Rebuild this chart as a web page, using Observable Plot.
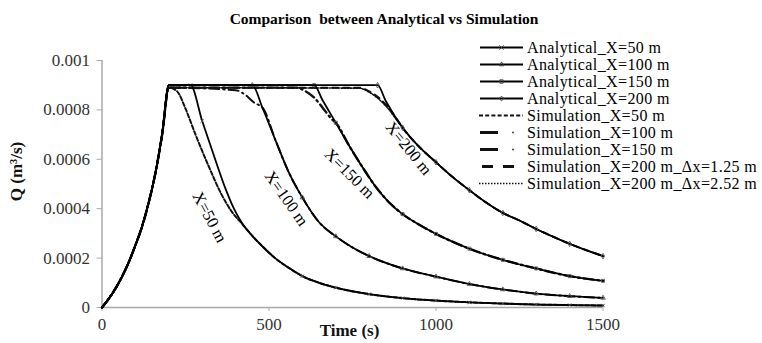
<!DOCTYPE html>
<html><head><meta charset="utf-8">
<script src="https://cdn.jsdelivr.net/npm/d3@7"></script>
<script src="https://cdn.jsdelivr.net/npm/@observablehq/plot@0.6"></script>
<style>
body{margin:0;background:#fff;font-family:'Liberation Serif',serif;}
#wrap{position:relative;width:762px;height:343px;overflow:hidden;}
#title{position:absolute;left:0;top:9px;width:768px;text-align:center;font-weight:bold;font-size:15.5px;line-height:20px;}
#chart{position:absolute;left:0;top:33px;}
#legend{position:absolute;left:478px;top:38.5px;font-size:16px;line-height:17.1px;letter-spacing:0.4px;}
#legend .row{display:flex;align-items:center;height:17.1px;white-space:nowrap;}
#legend svg{flex:none;}
</style></head><body>
<div id="wrap"><div id="title">Comparison&nbsp; between Analytical vs Simulation</div><div id="chart"></div><div id="legend"></div></div>
<script>
// ---- data ----
const xTicks = [0, 500, 1000, 1500];
const yTicks = [0, 0.0002, 0.0004, 0.0006, 0.0008, 0.001];
const yTickLabels = ["0", "0.0002", "0.0004", "0.0006", "0.0008", "0.001"];
const xTitle = "Time (s)";
const yTitle = "Q (m\u00b3/s)";

// common rising limb (s, m3/s)
const riseT = [0, 20, 40, 60, 80, 100, 120, 140, 160, 180, 200];
const riseQ = [0, 0.000035, 0.000076, 0.000125, 0.000183, 0.000252, 0.000328, 0.000426, 0.000545, 0.0007, 0.0009];

// analytical falling limbs (first point = end of plateau)
const a50T = [265, 300, 340, 370, 395, 420, 450, 480, 520, 560, 600, 650, 700, 800, 900, 1000, 1100, 1200, 1300, 1400, 1500];
const a50Q = [0.0009, 0.000755, 0.000595, 0.00048, 0.0004, 0.00034, 0.00029, 0.000248, 0.000198, 0.00016, 0.000127, 0.0001, 0.00008, 0.000054, 0.000038, 0.000028, 0.000021, 0.000016, 0.000012, 0.00001, 0.000008];
const a100T = [450, 480, 520, 560, 600, 650, 700, 750, 800, 900, 1000, 1100, 1200, 1300, 1400, 1500];
const a100Q = [0.0009, 0.00081, 0.000675, 0.000545, 0.000445, 0.000345, 0.000288, 0.000243, 0.000208, 0.000158, 0.000125, 0.000095, 0.000073, 0.000056, 0.000046, 0.000039];
const a150T = [635, 660, 700, 740, 780, 820, 860, 900, 950, 1000, 1100, 1200, 1300, 1400, 1500];
const a150Q = [0.0009, 0.00084, 0.000748, 0.000655, 0.000568, 0.000488, 0.000425, 0.000378, 0.000335, 0.000298, 0.000238, 0.000193, 0.000158, 0.000127, 0.000108];
const a200T = [825, 850, 900, 950, 1000, 1050, 1100, 1150, 1200, 1250, 1300, 1350, 1400, 1450, 1500];
const a200Q = [0.0009, 0.000835, 0.000728, 0.00065, 0.000588, 0.000528, 0.000475, 0.000425, 0.000383, 0.000352, 0.000318, 0.000287, 0.000258, 0.000232, 0.000208];

// simulation: plateau and rounded start of the falling limb (afterwards they follow the analytical curve)
const s50T = [200, 225, 250, 280, 320, 357, 390, 420];
const s50Q = [0.00089, 0.000875, 0.000805, 0.0007, 0.00057, 0.00046, 0.000385, 0.000338];
const s100T = [200, 400, 430, 455, 475];
const s100Q = [0.00089, 0.00088, 0.00086, 0.00083, 0.000815];
const s150T = [200, 580, 610, 635, 660, 690];
const s150Q = [0.00089, 0.00089, 0.000875, 0.00085, 0.00081, 0.00076];
const s200aT = [200, 770, 800, 830, 860, 890];
const s200aQ = [0.00089, 0.00089, 0.000875, 0.000848, 0.000805, 0.000748];
const s200bT = [200, 770, 800, 830, 860, 890];
const s200bQ = [0.00089, 0.000888, 0.000872, 0.000842, 0.0008, 0.000745];

const curveLabels = ["X=50 m", "X=100 m", "X=150 m", "X=200 m"];
const curveLabelT = [322, 552, 741, 918];
const curveLabelQ = [0.000366, 0.000441, 0.000542, 0.000644];
const curveLabelAngle = [62, 55, 45, 51];

// ---- build tables ----
const zip = (T, Q) => T.map((t, i) => ({t, q: Q[i]}));
const rise = zip(riseT, riseQ);
const analytical = [
  {name: "Analytical_X=50 m", fall: zip(a50T, a50Q), symbol: "times"},
  {name: "Analytical_X=100 m", fall: zip(a100T, a100Q), symbol: "triangle"},
  {name: "Analytical_X=150 m", fall: zip(a150T, a150Q), symbol: "square"},
  {name: "Analytical_X=200 m", fall: zip(a200T, a200Q), symbol: "diamond"}
];
analytical.forEach(s => s.rows = rise.concat(s.fall));
const sims = [
  {name: "Simulation_X=50 m", head: zip(s50T, s50Q), tail: analytical[0].fall, dash: "4,2.2", w: 2},
  {name: "Simulation_X=100 m", head: zip(s100T, s100Q), tail: analytical[1].fall, dash: "10,4,1.5,4", w: 2},
  {name: "Simulation_X=150 m", head: zip(s150T, s150Q), tail: analytical[2].fall, dash: "10,4,1.5,4", w: 2.4},
  {name: "Simulation_X=200 m_\u0394x=1.25 m", head: zip(s200aT, s200aQ), tail: analytical[3].fall, dash: "6,5", w: 2},
  {name: "Simulation_X=200 m_\u0394x=2.52 m", head: zip(s200bT, s200bQ), tail: analytical[3].fall, dash: "1.5,1.5", w: 1.6}
];
sims.forEach(s => {
  const last = s.head[s.head.length - 1].t;
  s.rows = rise.filter(d => d.t < 200).concat(s.head, s.tail.filter(d => d.t > last));
});
const labelRows = curveLabels.map((l, i) => ({label: l, t: curveLabelT[i], q: curveLabelQ[i], a: curveLabelAngle[i]}));

const FONT = "'Liberation Serif', serif";
const marks = [
  Plot.ruleY([0], {stroke: "#a8a8a8", strokeWidth: 1.5}),
  Plot.ruleX([0], {stroke: "#a8a8a8", strokeWidth: 1.5}),
  Plot.axisY({ticks: yTicks, tickFormat: (d, i) => yTickLabels[i], tickSize: 5, tickPadding: 7, stroke: "#a8a8a8", fill: "#333", fontSize: 17, label: null}),
  Plot.axisX({ticks: xTicks, tickFormat: d => String(d), tickSize: 4, tickPadding: 6, stroke: "#a8a8a8", fill: "#333", fontSize: 17, label: null}),
  Plot.text([yTitle], {frameAnchor: "left", textAnchor: "middle", rotate: -90, dx: -85, dy: -12.5, fontSize: 17, fontWeight: "bold", fill: "#111"}),
  Plot.text([xTitle], {frameAnchor: "bottom", textAnchor: "middle", dx: -3, dy: 28, fontSize: 17, fontWeight: "bold", fill: "#111"})
];
sims.forEach(s => marks.push(Plot.line(s.rows, {x: "t", y: "q", stroke: "#111", strokeWidth: s.w, strokeDasharray: s.dash, curve: "monotone-x"})));
analytical.forEach(s => {
  marks.push(Plot.line(s.rows, {x: "t", y: "q", stroke: "#000", strokeWidth: 1.8, curve: "monotone-x"}));
  marks.push(Plot.dot(s.fall.filter((d, i) => i === 0 || d.t % 100 === 0), {x: "t", y: "q", symbol: () => s.symbol, r: 1.7, stroke: "#555", strokeWidth: 0.9, fill: "none"}));
});
marks.push(Plot.text(labelRows, {x: "t", y: "q", text: "label", rotate: "a", fontSize: 16.5, fill: "#000"}));

const chart = Plot.plot({
  width: 762, height: 310,
  marginLeft: 101.5, marginRight: 159.5, marginTop: 27, marginBottom: 36,
  style: {fontFamily: FONT, fontSize: "17px", color: "#000", background: "#fff", overflow: "visible"},
  x: {domain: [0, 1500]},
  y: {domain: [0, 0.001]},
  symbol: {type: "identity"},
  marks
});
document.getElementById("chart").appendChild(chart);

// ---- legend ----
const sampleSvg = (kind, s) => {
  let inner = "";
  if (kind === "a") {
    const sym = d3.symbol().type({times: d3.symbolTimes, triangle: d3.symbolTriangle2, square: d3.symbolSquare2, diamond: d3.symbolDiamond2}[s.symbol]).size(14)();
    inner = `<line x1="2" x2="45" y1="8.5" y2="8.5" stroke="#000" stroke-width="1.8"/><path d="${sym}" transform="translate(23.5,8.5)" fill="none" stroke="#444"/>`;
  } else if (s.dash === "10,4,1.5,4") {
    inner = `<line x1="2" x2="20" y1="8.5" y2="8.5" stroke="#111" stroke-width="3"/><circle cx="35" cy="8.5" r="1.1" fill="#555"/>`;
  } else if (s.dash === "6,5") {
    inner = `<line x1="4" x2="15" y1="8.5" y2="8.5" stroke="#111" stroke-width="3"/><line x1="25" x2="36" y1="8.5" y2="8.5" stroke="#111" stroke-width="3"/>`;
  } else {
    inner = `<line x1="1" x2="45" y1="8.5" y2="8.5" stroke="#111" stroke-width="${s.dash === "1.5,1.5" ? 1.6 : 2.2}" stroke-dasharray="${s.dash}"/>`;
  }
  return `<svg width="49" height="17">${inner}</svg>`;
};
const leg = document.getElementById("legend");
analytical.forEach(s => leg.insertAdjacentHTML("beforeend", `<div class="row">${sampleSvg("a", s)}<span>${s.name}</span></div>`));
sims.forEach(s => leg.insertAdjacentHTML("beforeend", `<div class="row">${sampleSvg("s", s)}<span>${s.name}</span></div>`));
</script>
</body></html>
